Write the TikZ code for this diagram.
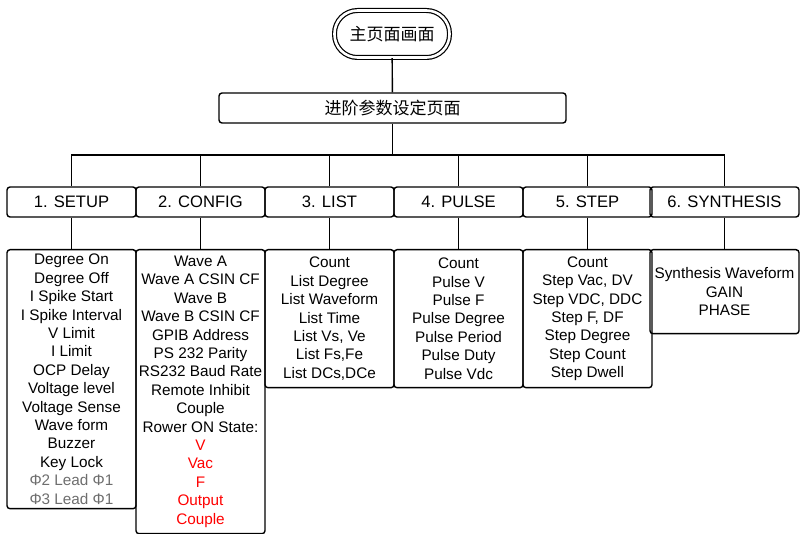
\documentclass[tikz,border=0pt]{standalone}
\usepackage{fontspec}
\setmainfont{Liberation Sans}
\newfontfamily\cjk{Noto Sans CJK SC}
\definecolor{leadgray}{RGB}{110,110,110}
\usetikzlibrary{calc}

\begin{document}
\begin{tikzpicture}[x=1pt, y=-1pt, line width=1.4pt, font=\fontsize{15.3}{18.4}\selectfont,
  homeoval/.style={draw, double, double distance=2.6pt, line width=1.2pt, rounded corners=23pt, minimum width=115pt, minimum height=47pt, font=\fontsize{17}{20}\selectfont\cjk},
  pagebox/.style={draw, rounded corners=3pt, minimum width=347pt, minimum height=30pt, font=\fontsize{17}{20}\selectfont\cjk},
  headbox/.style={draw, rounded corners=3pt, minimum width=129pt, minimum height=30pt, inner sep=0pt, font=\fontsize{16.6}{20}\selectfont},
  itembox/.style={draw, rounded corners=3pt, anchor=north, align=center, minimum width=129pt, inner sep=0pt}]
\useasboundingbox (0,0) rectangle (804,534);
\node[homeoval] (home) at (392,34) {主页面画面};
\node[pagebox] (adv) at (392.5,108) {进阶参数设定页面};
\draw (home) -- (adv); \coordinate (bus) at (392.5,155); \draw (adv) -- (bus);
% menu headers
\node[headbox] (setup) at (71.5,202) {1. SETUP}; \node[headbox] (config) at (200.5,202) {2. CONFIG};
\node[headbox] (list) at (329.5,202) {3. LIST}; \node[headbox] (pulse) at (458.5,202) {4. PULSE};
\node[headbox] (step) at (587.5,202) {5. STEP}; \node[headbox, minimum width=149pt] (synth) at (724.5,202) {6. SYNTHESIS};
% item lists
\node[itembox, minimum height=259pt] (setupL) at (71.5,249) {Degree On\\Degree Off\\I Spike Start\\I Spike Interval\\V Limit\\I Limit\\OCP Delay\\Voltage level\\Voltage Sense\\Wave form\\Buzzer\\Key Lock\\\textcolor{leadgray}{Φ2 Lead Φ1}\\\textcolor{leadgray}{Φ3 Lead Φ1}};
\node[itembox, minimum height=284pt] (configL) at (200.5,249) {Wave A\\Wave A CSIN CF\\Wave B\\Wave B CSIN CF\\GPIB Address\\PS 232 Parity\\RS232 Baud Rate\\Remote Inhibit\\Couple\\Rower ON State:\\\textcolor{red}{V}\\\textcolor{red}{Vac}\\\textcolor{red}{F}\\\textcolor{red}{Output}\\\textcolor{red}{Couple}};
\node[itembox, minimum height=138pt] (listL) at (329.5,249) {Count\\List Degree\\List Waveform\\List Time\\List Vs, Ve\\List Fs,Fe\\List DCs,DCe};
\node[itembox, minimum height=138pt] (pulseL) at (458.5,249) {Count\\Pulse V\\Pulse F\\Pulse Degree\\Pulse Period\\Pulse Duty\\Pulse Vdc};
\node[itembox, minimum height=138pt] (stepL) at (587.5,249) {Count\\Step Vac, DV\\Step VDC, DDC\\Step F, DF\\Step Degree\\Step Count\\Step Dwell};
\node[itembox, minimum height=84pt, minimum width=149pt] (synthL) at (724.5,249) {Synthesis Waveform\\GAIN\\PHASE};
\foreach \m in {setup,config,list,pulse,step,synth} {\draw (bus) -| (\m); \draw (\m) -- (\m L);}
\end{tikzpicture}
\end{document}
